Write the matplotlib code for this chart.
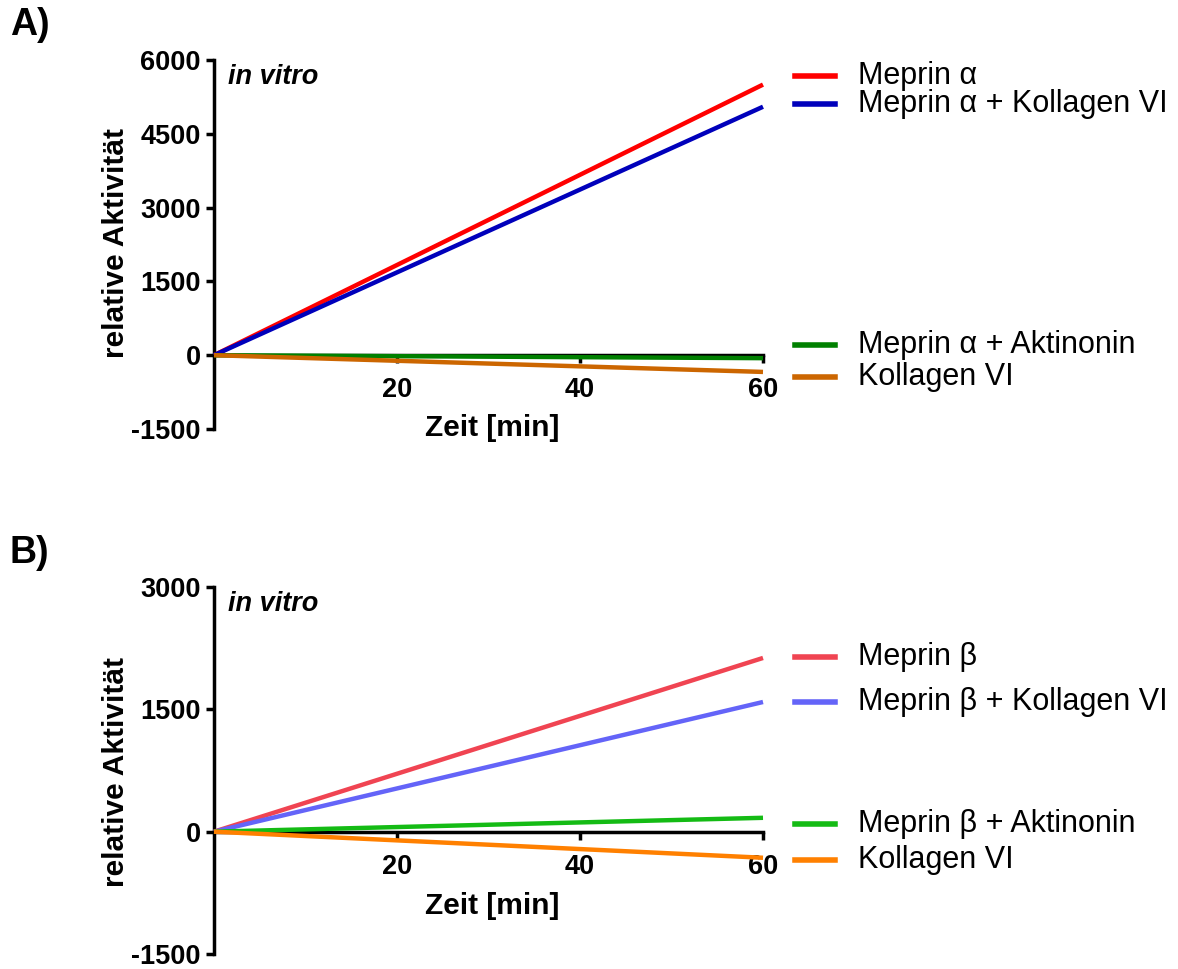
import matplotlib
matplotlib.use("Agg")
import matplotlib.pyplot as plt
from matplotlib.lines import Line2D

plt.rcParams['font.family'] = ['Liberation Sans', 'DejaVu Sans']
plt.rcParams['axes.unicode_minus'] = False

# time points [min]
zeit = [0, 60]

# panel A - meprin alpha
labels_a = ["Meprin \u03b1", "Meprin \u03b1 + Kollagen VI",
            "Meprin \u03b1 + Aktinonin", "Kollagen VI"]
werte_a = [[0, 5500], [0, 5050], [0, -60], [0, -340]]
farben_a = ["#ff0000", "#0000bb", "#008000", "#cc6600"]

# panel B - meprin beta
labels_b = ["Meprin \u03b2", "Meprin \u03b2 + Kollagen VI",
            "Meprin \u03b2 + Aktinonin", "Kollagen VI"]
werte_b = [[0, 2130], [0, 1590], [0, 170], [0, -320]]
farben_b = ["#f04452", "#6464f8", "#14bb14", "#ff8000"]

yticks_a = [-1500, 0, 1500, 3000, 4500, 6000]
yticks_b = [-1500, 0, 1500, 3000]
xticks = [20, 40, 60]

W, H = 1178, 969
fig = plt.figure(figsize=(W / 100, H / 100), dpi=100)


def panel(rect, werte, farben, labels, yticks, leg_y, buchstabe, buch_y, ylab_y, xlab_y):
    ax = fig.add_axes(rect)
    for w, c in zip(werte, farben):
        ax.plot(zeit, w, color=c, lw=3.2, clip_on=False, solid_capstyle='butt', zorder=4)
    ax.set_xlim(0, 60)
    ax.set_ylim(yticks[0], yticks[-1])
    ax.set_yticks(yticks)
    ax.set_xticks(xticks)
    for s in ['top', 'right']:
        ax.spines[s].set_visible(False)
    ax.spines['bottom'].set_position(('data', 0))
    ax.spines['left'].set_linewidth(2.5)
    ax.spines['bottom'].set_linewidth(2.5)
    ax.tick_params(axis='both', width=2.5, length=6, labelsize=19.5)
    ax.tick_params(axis='x', pad=10)
    for t in ax.get_xticklabels() + ax.get_yticklabels():
        t.set_fontweight('bold')
    ax.patch.set_alpha(0)
    ax.text(0.025, 0.99, "in vitro", transform=ax.transAxes, fontsize=19.5,
            fontweight='bold', style='italic', va='top', ha='left')
    # legend entries next to line ends
    for y, c, lab in zip(leg_y, farben, labels):
        fy = 1 - y / H
        fig.add_artist(Line2D([795 / W, 835 / W], [fy, fy], color=c, lw=4))
        fig.text(858 / W, fy, lab, fontsize=22, va='center', ha='left')
    fig.text(10 / W, 1 - buch_y / H, buchstabe, fontsize=27, fontweight='bold',
             va='center', ha='left')
    fig.text(116 / W, 1 - ylab_y / H, "relative Aktivit\u00e4t", rotation=90,
             fontsize=21.5, fontweight='bold', va='center', ha='center')
    fig.text(492 / W, 1 - xlab_y / H, "Zeit [min]", fontsize=21.5,
             fontweight='bold', va='center', ha='center')
    return ax


panel([214 / W, 1 - 429 / H, 549 / W, 369 / H], werte_a, farben_a, labels_a,
      yticks_a, [76, 104, 345, 377], "A)", 25, 243, 428)
panel([214 / W, 1 - 954 / H, 549 / W, 367 / H], werte_b, farben_b, labels_b,
      yticks_b, [657, 702, 824, 860], "B)", 553, 772, 906)

fig.savefig("out.png", dpi=100)
